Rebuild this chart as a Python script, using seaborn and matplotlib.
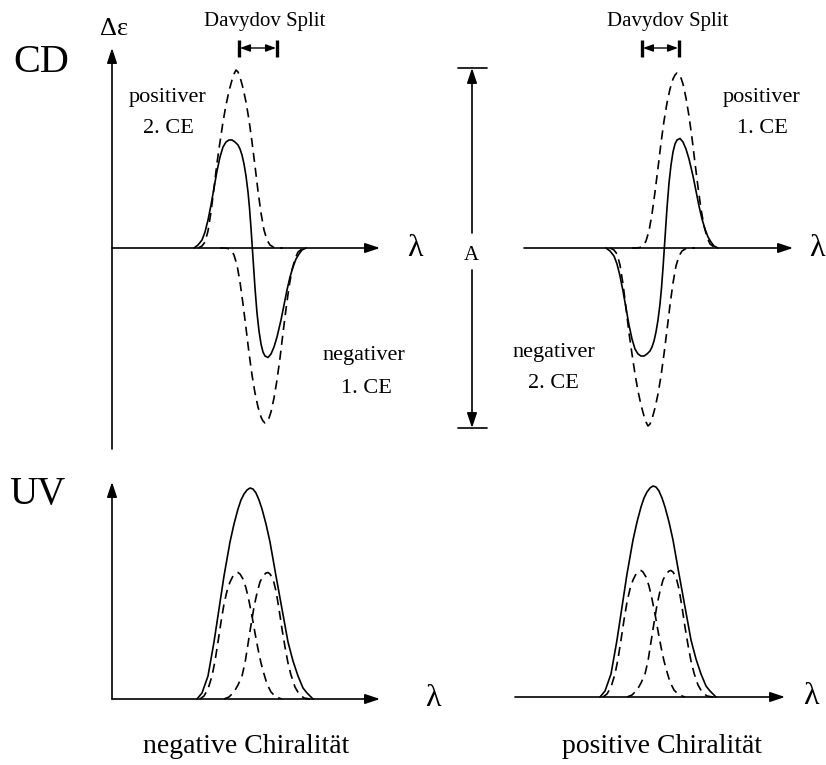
import matplotlib
matplotlib.use("Agg")
import matplotlib.pyplot as plt
import seaborn as sns

# ============================================================
# DATA  (lambda measured from the axis origin, signal in a.u.)
# ============================================================

# CD couplet (negative chirality); positive chirality is the mirror image
cd_sum_x = [82, 86, 90, 93, 96, 99, 102, 105, 108, 111,
            114, 117, 120, 123, 126, 128, 130, 132, 134, 136,
            137.5, 139, 140, 141, 142, 143, 145, 147, 149, 151,
            153, 156, 159, 162, 165, 169, 172, 175, 178, 181,
            184, 187, 190, 194]
cd_sum_y = [0, 3, 8, 16, 28, 43, 60, 77, 91, 101,
            106, 108, 108, 106, 103, 99, 93, 84, 72, 56,
            40, 20, 5, -10, -25, -40, -65, -83, -96, -104,
            -108, -109.5, -106, -99, -89, -72, -57, -42, -29, -19,
            -11, -6, -2, 0]

# single CD bands (dashed)
cd_band2_x = [86, 90, 93, 96, 99, 102, 105, 108, 111, 114,
              117, 120, 122, 124, 126, 128, 131, 134, 137, 140,
              143, 146, 149, 152, 155, 158, 162, 167, 171]
cd_band2_y = [0, 2, 6, 17, 36, 60, 85, 106, 126, 143,
              157, 168, 174, 178, 176, 171, 160, 146, 128, 106,
              82, 57, 35, 18, 8, 3, 0.5, 0, 0]
cd_band1_x = [108, 112, 116, 119, 122, 125, 128, 131, 134, 137,
              140, 143, 146, 149, 151, 153, 155, 157, 159, 162,
              165, 168, 171, 174, 177, 180, 183, 186, 190, 194]
cd_band1_y = [0, 0, -0.5, -2, -7, -17, -34, -56, -80, -105,
              -127, -145, -159, -169, -173, -175, -174, -170, -164, -150,
              -132, -110, -85, -61, -39, -22, -11, -4, -1, 0]

# UV absorption: total band and the two exciton components
uv_sum_x = [85, 90, 96, 102, 107, 112, 118, 122, 126, 129,
            132, 135, 138, 141, 144, 147, 150, 154, 158, 164,
            170, 176, 181, 186, 191, 195, 201]
uv_sum_y = [0, 6, 23, 57, 90, 123, 157, 175, 190, 199,
            205, 209, 211, 210, 206, 199, 190, 175, 157, 123,
            90, 57, 38, 23, 11, 6, 0]
uv_comp1_x = [88, 92, 96, 100, 103, 106, 109, 112, 115, 118,
              121, 124, 126, 128, 131, 134, 137, 140, 143, 146,
              149, 152, 155, 159, 164, 170]
uv_comp1_y = [0, 3, 10, 23, 38, 57, 77, 95, 108, 117,
              123, 126, 126.5, 125, 120, 111, 98, 83, 66, 50,
              36, 25, 15, 7, 2, 0]
uv_comp2_x = [112, 117, 122, 126, 130, 133, 136, 139, 142, 145,
              148, 151, 154, 156, 158, 161, 164, 167, 170, 173,
              176, 179, 183, 187, 192, 198]
uv_comp2_y = [0, 2, 7, 14, 23, 36, 55, 74, 92, 106,
              117, 123, 126, 126.5, 125, 120, 108, 90, 70, 52,
              36, 24, 12, 5, 1, 0]

# Davydov split markers (left / right panel)
split_neg = [127, 165]
split_pos = [118, 155]

# ============================================================
# STYLE
# ============================================================

sns.set_style("white")
plt.rcParams["font.family"] = ["Liberation Serif", "DejaVu Serif"]
plt.rcParams["text.color"] = "black"

W, H = 826, 765
fig = plt.figure(figsize=(W / 100, H / 100), dpi=100)

LW = 1.2
DASH = (0, (5.5, 3.5))
FS = 16


def panel(x0, x1, ytop, ybot, xlim, ylim):
    ax = fig.add_axes([x0 / W, 1 - ybot / H, (x1 - x0) / W, (ybot - ytop) / H])
    ax.set_xlim(*xlim)
    ax.set_ylim(*ylim)
    ax.axis("off")
    return ax


def arrow(ax, start, end, lw=LW):
    ax.annotate(
        "", xy=end, xytext=start,
        arrowprops=dict(arrowstyle="-|>,head_length=0.75,head_width=0.25",
                        color="k", lw=lw, shrinkA=0, shrinkB=0,
                        mutation_scale=12),
        annotation_clip=False,
    )


def curve(ax, x, y, sign=1, dashed=False):
    sns.lineplot(
        x=x, y=[sign * v for v in y], ax=ax, color="k", lw=LW,
        linestyle=DASH if dashed else "-", estimator=None, sort=False,
    )


def davydov(ax, xs, y=200):
    for xv in xs:
        ax.plot([xv, xv], [y - 8.5, y + 8.5], color="k", lw=2.4,
                solid_capstyle="butt")
    ax.annotate("", xy=(xs[1] - 1, y), xytext=(xs[0] + 1, y),
                arrowprops=dict(arrowstyle="<|-|>,head_length=0.6,head_width=0.22",
                                color="k", lw=1.0, shrinkA=0, shrinkB=0,
                                mutation_scale=10),
                annotation_clip=False)
    ax.text((xs[0] + xs[1]) / 2 + 7, 222, "Davydov Split", ha="center",
            va="baseline", fontsize=15)


# ============================================================
# CD PANELS
# ============================================================

ax_cd_l = panel(102, 392, 33, 463, (-10, 280), (-215, 215))
arrow(ax_cd_l, (0, 0), (268, 0))
arrow(ax_cd_l, (0, -201), (0, 200))
curve(ax_cd_l, cd_band2_x, cd_band2_y, dashed=True)
curve(ax_cd_l, cd_band1_x, cd_band1_y, dashed=True)
curve(ax_cd_l, cd_sum_x, cd_sum_y)
davydov(ax_cd_l, split_neg)
ax_cd_l.text(2, 219, "Δε", ha="center", va="center", fontsize=19)
ax_cd_l.text(303, 0, "λ", ha="center", va="center", fontsize=23)
ax_cd_l.text(56, 146, "positiver", ha="center", va="baseline", fontsize=FS)
ax_cd_l.text(56, 115, "2. CE", ha="center", va="baseline", fontsize=FS)
ax_cd_l.text(252, -112, "negativer", ha="center", va="baseline", fontsize=FS)
ax_cd_l.text(254, -145, "1. CE", ha="center", va="baseline", fontsize=FS)

# amplitude A between the two panels
for yv in (180, -180):
    ax_cd_l.plot([346, 375], [yv, yv], color="k", lw=LW, clip_on=False)
arrow(ax_cd_l, (360, 15), (360, 180))
arrow(ax_cd_l, (360, -22), (360, -180))
ax_cd_l.text(359.5, -7, "A", ha="center", va="center", fontsize=15)

ax_cd_r = panel(514, 804, 33, 463, (-10, 280), (-215, 215))
arrow(ax_cd_r, (0, 0), (269, 0))
curve(ax_cd_r, cd_band2_x, cd_band2_y, sign=-1, dashed=True)
curve(ax_cd_r, cd_band1_x, cd_band1_y, sign=-1, dashed=True)
curve(ax_cd_r, cd_sum_x, cd_sum_y, sign=-1)
davydov(ax_cd_r, split_pos)
ax_cd_r.text(293, 0, "λ", ha="center", va="center", fontsize=23)
ax_cd_r.text(238, 146, "positiver", ha="center", va="baseline", fontsize=FS)
ax_cd_r.text(238, 115, "1. CE", ha="center", va="baseline", fontsize=FS)
ax_cd_r.text(30, -109, "negativer", ha="center", va="baseline", fontsize=FS)
ax_cd_r.text(29, -140, "2. CE", ha="center", va="baseline", fontsize=FS)

# ============================================================
# UV PANELS
# ============================================================

ax_uv_l = panel(102, 392, 474, 709, (-10, 280), (-10, 225))
arrow(ax_uv_l, (0, 0), (268, 0))
arrow(ax_uv_l, (0, 0), (0, 217))
curve(ax_uv_l, uv_comp1_x, uv_comp1_y, dashed=True)
curve(ax_uv_l, uv_comp2_x, uv_comp2_y, dashed=True)
curve(ax_uv_l, uv_sum_x, uv_sum_y)
ax_uv_l.text(321, 0, "λ", ha="center", va="center", fontsize=23)

ax_uv_r = panel(505, 795, 472, 707, (-10, 280), (-10, 225))
arrow(ax_uv_r, (0, 0), (270, 0))
curve(ax_uv_r, uv_comp1_x, uv_comp1_y, dashed=True)
curve(ax_uv_r, uv_comp2_x, uv_comp2_y, dashed=True)
curve(ax_uv_r, uv_sum_x, uv_sum_y)
ax_uv_r.text(296, 0, "λ", ha="center", va="center", fontsize=23)

# ============================================================
# ROW / COLUMN LABELS
# ============================================================

fig.text(41 / W, 1 - 62 / H, "CD", ha="center", va="center", fontsize=29)
fig.text(37 / W, 1 - 494 / H, "UV", ha="center", va="center", fontsize=28)
fig.text(246 / W, 1 - 753 / H, "negative Chiralität", ha="center",
         va="baseline", fontsize=20)
fig.text(662 / W, 1 - 753 / H, "positive Chiralität", ha="center",
         va="baseline", fontsize=20)

plt.savefig("out.png", dpi=100)
plt.close()
